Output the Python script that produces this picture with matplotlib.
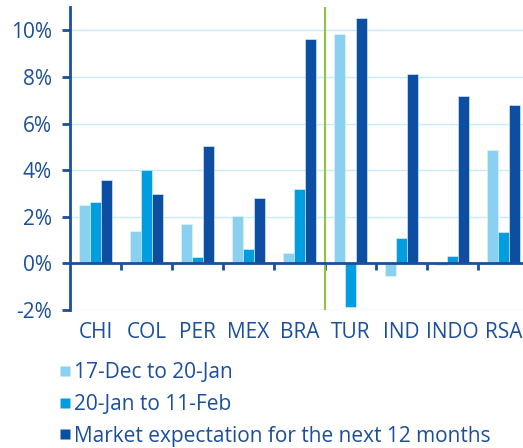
import numpy as np
import matplotlib
matplotlib.use("Agg")
import matplotlib.pyplot as plt
from matplotlib.lines import Line2D
from matplotlib.ticker import FuncFormatter

plt.rcParams['font.family'] = ['Open Sans', 'DejaVu Sans']

countries = ['CHI', 'COL', 'PER', 'MEX', 'BRA', 'TUR', 'IND', 'INDO', 'RSA']
dec_to_jan = [2.5, 1.4, 1.7, 2.05, 0.45, 9.85, -0.55, -0.07, 4.85]
jan_to_feb = [2.65, 4.0, 0.28, 0.62, 3.2, -1.88, 1.1, 0.3, 1.35]
next_12m = [3.6, 3.0, 5.05, 2.8, 9.65, 10.55, 8.15, 7.2, 6.8]
series_names = ['17-Dec to 20-Jan', '20-Jan to 11-Feb',
                'Market expectation for the next 12 months']

text_col = '#1b4f9c'
colors = ['#8ad0f0', '#009ee0', '#0b4ea2']

fig = plt.figure(figsize=(5.23, 4.48), dpi=100)
ax = fig.add_axes([0.134, 0.308, 0.866, 0.676])

x = np.arange(len(countries))
w = 0.22
for i, vals in enumerate([dec_to_jan, jan_to_feb, next_12m]):
    ax.bar(x + (i - 1) * w, vals, width=w, color=colors[i],
           edgecolor='#e8f4fb', linewidth=0.4, zorder=3)

ax.set_xlim(-0.5, 8.38)
ax.set_ylim(-2, 11)
ax.set_yticks(range(-2, 11, 2))
ax.yaxis.set_major_formatter(FuncFormatter(lambda v, p: f'{v:.0f}%'))
ax.grid(axis='y', color='#c8ebfa', linewidth=1, zorder=0)

# spines: left axis plus the zero line
for s in ['top', 'right']:
    ax.spines[s].set_visible(False)
ax.spines['left'].set_color(text_col)
ax.spines['left'].set_linewidth(2)
ax.spines['bottom'].set_position(('data', 0))
ax.spines['bottom'].set_color(text_col)
ax.spines['bottom'].set_linewidth(2)
ax.spines['bottom'].set_zorder(6)

ax.set_xticks(x[:-1] + 0.5)
ax.set_xticklabels([])
ax.tick_params(axis='x', direction='out', length=5, width=2, color=text_col)
ax.tick_params(axis='y', direction='out', length=6, width=2, color=text_col,
               labelcolor=text_col, labelsize=15, pad=7)

for xi, name in zip(x, countries):
    ax.text(xi, -0.075, name, transform=ax.get_xaxis_transform(),
            ha='center', va='center', color=text_col, fontsize=15)

# separator between the two country groups
ax.axvline(4.5, ymax=1.0, color='#8cc63f', linewidth=1.5, zorder=5)

handles = [Line2D([], [], linestyle='none', marker='s', markersize=7.5,
                  markerfacecolor=c, markeredgecolor='none') for c in colors]
fig.legend(handles, series_names, loc='upper left', bbox_to_anchor=(0.114, 0.192),
           frameon=False, fontsize=15, labelcolor=text_col,
           handlelength=0.5, handletextpad=0.2, labelspacing=0.52,
           borderaxespad=0, borderpad=0)

fig.savefig('out.png', dpi=100)
